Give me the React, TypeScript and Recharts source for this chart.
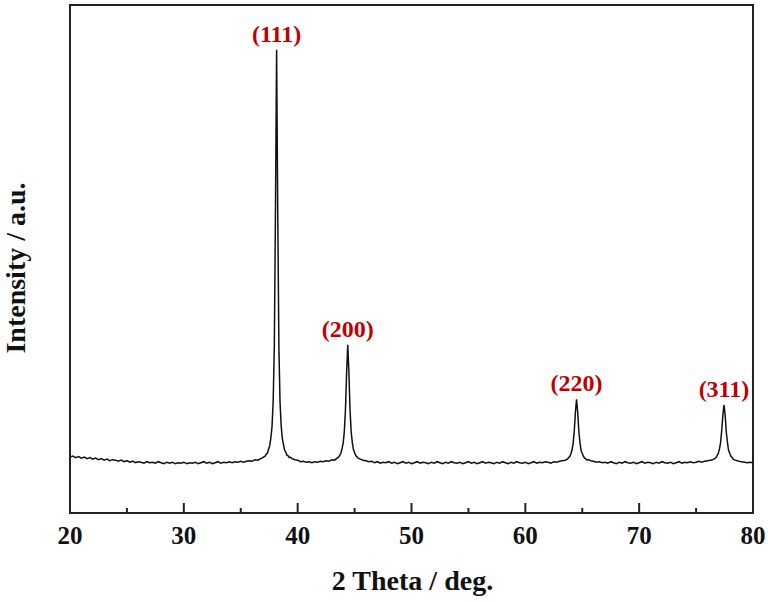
import React from 'react';
import { LineChart, Line, XAxis, YAxis, Label, ReferenceArea, ReferenceDot } from 'recharts';

const SERIF = '"Times New Roman", "Liberation Serif", serif';
const PEAK_RED = '#C00000';

// background steps are 0.25 deg, peak windows are sampled every 0.1 deg
const BG_STEP = 0.25;
const PEAK_STEP = 0.1;

const bg20 = [
  110, 112, 109, 111, 108, 110, 107, 109, 106, 108, 105, 107, 104, 106, 103, 105,
  104, 102, 104, 101, 103, 100, 102, 99, 101, 100, 98, 101, 99, 100, 98, 101,
  99, 97, 100, 98, 100, 97, 99, 98, 100, 97, 99, 98, 100, 97, 99, 101,
  98, 100, 97, 99, 101, 98, 100, 99, 101, 99, 101, 100, 102, 100, 102, 103,
  102, 105, 104, 107,
];
const peak111 = [
  109, 111, 112, 116, 118, 126, 133, 149, 171, 221, 328, 596, 912,
  594, 327, 219, 172, 147, 135, 124, 120, 114, 113, 109, 110,
];
const bg39 = [107, 105, 104, 101, 102, 100, 101, 99, 101, 100, 102, 101, 103, 102, 105, 104];
const peak200 = [
  107, 109, 110, 114, 118, 127, 138, 161, 204, 276, 331,
  277, 203, 160, 139, 125, 119, 113, 111, 108, 107,
];
const bg45 = [
  106, 104, 103, 101, 102, 99, 101, 98, 100, 99, 101, 98, 100, 97, 99, 101,
  98, 100, 97, 99, 101, 98, 100, 99, 97, 100, 98, 101, 99, 97, 100, 98,
  101, 99, 98, 100, 97, 99, 101, 98, 100, 97, 99, 101, 98, 100, 99, 97,
  100, 98, 101, 99, 97, 100, 98, 101, 99, 98, 100, 97, 99, 101, 98, 100,
  99, 101, 100, 98, 101, 100, 102, 103,
];
const peak220 = [
  104, 105, 106, 109, 111, 116, 124, 137, 162, 199, 224,
  198, 161, 138, 123, 117, 112, 108, 107, 104, 105,
];
const bg65 = [
  103, 102, 100, 101, 99, 100, 98, 101, 99, 97, 100, 98, 101, 99, 98, 100,
  97, 99, 101, 98, 100, 99, 97, 100, 98, 101, 99, 98, 100, 97, 99, 101,
  98, 100, 99, 101, 99, 100, 102, 100, 102, 103, 104,
];
const peak311 = [
  105, 106, 107, 109, 113, 117, 126, 138, 162, 192, 213,
  194, 160, 140, 124, 118, 112, 110, 106, 105, 104,
];
const bg78 = [102, 101, 100, 99, 100, 99];

const segments = [
  { start: 20, step: BG_STEP, values: bg20 },
  { start: 36.95, step: PEAK_STEP, values: peak111 },
  { start: 39.5, step: BG_STEP, values: bg39 },
  { start: 43.4, step: PEAK_STEP, values: peak200 },
  { start: 45.5, step: BG_STEP, values: bg45 },
  { start: 63.5, step: PEAK_STEP, values: peak220 },
  { start: 65.75, step: BG_STEP, values: bg65 },
  { start: 76.45, step: PEAK_STEP, values: peak311 },
  { start: 78.75, step: BG_STEP, values: bg78 },
];

const peakNames = ['(111)', '(200)', '(220)', '(311)'];
const peakAngles = [38.15, 44.4, 64.5, 77.45];
const peakTops = [912, 331, 224, 213];

const xTicks = [20, 25, 30, 35, 40, 45, 50, 55, 60, 65, 70, 75, 80];

const data = segments.flatMap((s) =>
  s.values.map((v, i) => ({ angle: +(s.start + i * s.step).toFixed(2), intensity: v }))
);

function AngleTick({ x, y, payload }: any) {
  const major = payload.value % 10 === 0;
  return (
    <g>
      <line x1={x} x2={x} y1={y} y2={y - (major ? 10 : 5)} stroke="#222" strokeWidth={2} />
      {major && (
        <text x={x} y={y + 31} textAnchor="middle" fontFamily={SERIF} fontWeight="bold" fontSize={25} fill="#111">
          {payload.value}
        </text>
      )}
    </g>
  );
}

function YTitle({ viewBox }: any) {
  const cx = viewBox.x + viewBox.width - 45;
  const cy = viewBox.y + viewBox.height / 2 + 9;
  return (
    <text
      x={cx}
      y={cy}
      transform={`rotate(-90 ${cx} ${cy})`}
      textAnchor="middle"
      fontFamily={SERIF}
      fontWeight="bold"
      fontSize={28}
      fill="#111"
    >
      Intensity / a.u.
    </text>
  );
}

export default function App() {
  return (
    <div style={{ position: 'absolute', left: 0, top: 0, background: '#fff' }}>
      <LineChart width={768} height={602} data={data} margin={{ top: 5, right: 15, bottom: 59, left: 60 }}>
        <XAxis
          dataKey="angle"
          type="number"
          domain={[20, 80]}
          ticks={xTicks}
          tick={<AngleTick />}
          tickSize={0}
          tickMargin={0}
          tickLine={false}
          axisLine={false}
          height={30}
          interval={0}
          label={({ viewBox }: any) => (
            <text
              x={viewBox.x + viewBox.width / 2 + 1}
              y={viewBox.y + 77}
              textAnchor="middle"
              fontFamily={SERIF}
              fontWeight="bold"
              fontSize={28}
              fill="#111"
            >
              2 Theta / deg.
            </text>
          )}
        />
        <YAxis
          type="number"
          domain={[0, 1000]}
          width={10}
          tick={false}
          tickLine={false}
          axisLine={false}
        >
          <Label content={<YTitle />} />
        </YAxis>
        <ReferenceArea x1={20} x2={80} y1={0} y2={1000} fill="none" stroke="#222" strokeWidth={2} ifOverflow="visible" />
        <Line
          type="linear"
          dataKey="intensity"
          stroke="#111"
          strokeWidth={1.5}
          dot={false}
          isAnimationActive={false}
        />
        {peakNames.map((name, i) => (
          <ReferenceDot
            key={name}
            x={peakAngles[i]}
            y={peakTops[i]}
            r={0}
            stroke="none"
            fill="none"
            label={{
              value: name,
              position: 'top',
              offset: 8,
              fill: PEAK_RED,
              fontSize: 24,
              fontWeight: 'bold',
              fontFamily: SERIF,
            }}
          />
        ))}
      </LineChart>
    </div>
  );
}
